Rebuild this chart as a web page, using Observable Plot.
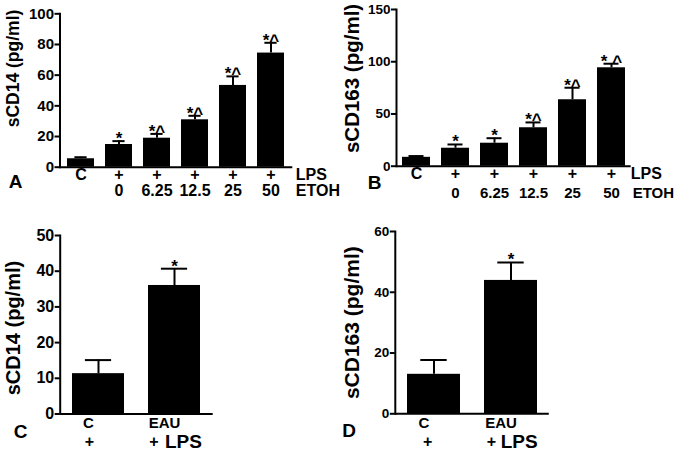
<!DOCTYPE html>
<html>
<head>
<meta charset="utf-8">
<script src="https://cdn.jsdelivr.net/npm/d3@7"></script>
<script src="https://cdn.jsdelivr.net/npm/@observablehq/plot@0.6"></script>
<style>
  html, body { margin: 0; padding: 0; background: #fff; }
  #wrap { position: relative; width: 675px; height: 451px; overflow: hidden; background: #fff; }
  .pan { position: absolute; }
</style>
</head>
<body>
<div id="wrap">
  <div class="pan" id="pA" style="left:0px;top:0px"></div>
  <div class="pan" id="pB" style="left:340px;top:0px"></div>
  <div class="pan" id="pC" style="left:0px;top:220px"></div>
  <div class="pan" id="pD" style="left:340px;top:220px"></div>
</div>
<script>
// ---- data ----
const groupsAB = ["C", "0", "6.25", "12.5", "25", "50"];
const lpsRowAB = ["C", "+", "+", "+", "+", "+"];
const etohRowAB = ["", "0", "6.25", "12.5", "25", "50"];

const sCD14_A = [5.5, 14.8, 18.9, 30.9, 53.3, 74.4];
const sCD14_A_sem = [1.0, 2.2, 2.8, 2.6, 5.9, 6.7];
const starsA = ["", "*", "*^", "*^", "*^", "*^"];
const ticksA = [0, 20, 40, 60, 80, 100];

const sCD163_B = [8.5, 17.2, 22.0, 36.8, 63.6, 94.2];
const sCD163_B_sem = [1.2, 3.6, 4.8, 5.1, 11.5, 3.9];
const starsB = ["", "*", "*", "*^", "*^", "* ^"];
const ticksB = [0, 50, 100, 150];

const groupsCD = ["C", "EAU"];
const sCD14_C = [11.3, 36.0];
const sCD14_C_sem = [3.8, 4.7];
const sCD163_D = [13.0, 43.9];
const sCD163_D_sem = [4.7, 5.9];
const starsCD = ["", "*"];
const ticksC = [0, 10, 20, 30, 40, 50];
const ticksD = [0, 20, 40, 60];

const FONT = "'Liberation Sans', Arial, Helvetica, sans-serif";

function rows(groups, means, sems, stars, r1, r2) {
  return groups.map((g, i) => ({
    g, v: means[i], e: means[i] + sems[i], star: stars[i],
    r1: r1 ? r1[i] : "", r2: r2 ? r2[i] : ""
  }));
}

function basePlot(o, marks) {
  return Plot.plot({
    width: o.width, height: o.height,
    marginLeft: o.ml, marginRight: o.mr, marginTop: o.mt, marginBottom: o.mb,
    style: {background: "white", fontFamily: FONT, fontWeight: "bold", color: "black", overflow: "visible"},
    x: {type: "band", domain: o.groups, paddingInner: o.pi, paddingOuter: o.pi / 2, axis: null},
    y: {domain: o.ydomain, axis: null},
    marks: [
      Plot.barY(o.data, {x: "g", y: "v", fill: "black"}),
      Plot.ruleX(o.data, {x: "g", y1: "v", y2: "e", stroke: "black", strokeWidth: 2}),
      Plot.tickY(o.data, {x: "g", y: "e", stroke: "black", strokeWidth: 2, insetLeft: o.capInset, insetRight: o.capInset}),
      Plot.text(o.data, {x: "g", y: "e", text: "star", lineAnchor: "bottom", dy: 3, fontSize: 17, fontWeight: "bold", fill: "black"}),
      Plot.axisY({ticks: o.ticks, tickSize: 5, tickPadding: 1, strokeWidth: 2, fontSize: o.tickFont, fontWeight: "bold", label: null, stroke: "black", fill: "black"}),
      Plot.frame({anchor: "left", stroke: "black", strokeWidth: 2}),
      Plot.ruleY([0], {stroke: "black", strokeWidth: 2}),
      Plot.text([o.ylabel], {frameAnchor: "left", textAnchor: "middle", rotate: -90, dx: o.ylx, dy: o.yly, fontSize: o.ylabelFont, fontWeight: "bold", lineAnchor: "middle", fill: "black"}),
      Plot.text([o.letter], {frameAnchor: "bottom-left", textAnchor: "middle", dx: o.lx, dy: o.ly, fontSize: 19, fontWeight: "bold", lineAnchor: "middle", fill: "black"}),
      ...marks
    ]
  });
}

// ---- Panel A ----
const dataA = rows(groupsAB, sCD14_A, sCD14_A_sem, starsA, lpsRowAB, etohRowAB);
document.getElementById("pA").appendChild(basePlot({
  width: 340, height: 205, ml: 59.5, mr: 47.7, mt: 13.3, mb: 38.3,
  groups: groupsAB, pi: 0.29, ydomain: [0, 100], ticks: ticksA, data: dataA,
  capInset: 7.4, tickFont: 15, ylabel: "sCD14 (pg/ml)", ylabelFont: 17.5, ylx: -47, yly: -22,
  letter: "A", lx: -44.5, ly: 15
}, [
  Plot.text(dataA, {x: "g", text: "r1", frameAnchor: "bottom", dy: 7.3, lineAnchor: "middle", fontSize: 16, fontWeight: "bold", fill: "black"}),
  Plot.text(dataA, {x: "g", text: "r2", frameAnchor: "bottom", dy: 24, lineAnchor: "middle", fontSize: 16, fontWeight: "bold", fill: "black"}),
  Plot.text(["LPS"], {frameAnchor: "bottom-right", textAnchor: "start", dx: 3, dy: 7.3, lineAnchor: "middle", fontSize: 16, fontWeight: "bold", fill: "black"}),
  Plot.text(["ETOH"], {frameAnchor: "bottom-right", textAnchor: "start", dx: 3, dy: 24, lineAnchor: "middle", fontSize: 16, fontWeight: "bold", fill: "black"})
]));

// ---- Panel B ----
const dataB = rows(groupsAB, sCD163_B, sCD163_B_sem, starsB, lpsRowAB, etohRowAB);
document.getElementById("pB").appendChild(basePlot({
  width: 335, height: 205, ml: 56, mr: 44.3, mt: 9, mb: 39.3,
  groups: groupsAB, pi: 0.284, ydomain: [0, 150], ticks: ticksB, data: dataB,
  capInset: 6.5, tickFont: 13.5, ylabel: "sCD163 (pg/ml)", ylabelFont: 20.5, ylx: -44.3, yly: -9.4,
  letter: "B", lx: -22, ly: 17
}, [
  Plot.text(dataB, {x: "g", text: "r1", frameAnchor: "bottom", dy: 7.3, lineAnchor: "middle", fontSize: 16, fontWeight: "bold", fill: "black"}),
  Plot.text(dataB, {x: "g", text: "r2", frameAnchor: "bottom", dy: 27.3, lineAnchor: "middle", fontSize: 15, fontWeight: "bold", fill: "black"}),
  Plot.text(["LPS"], {frameAnchor: "bottom-right", textAnchor: "start", dx: -0.5, dy: 7.3, lineAnchor: "middle", fontSize: 16, fontWeight: "bold", fill: "black"}),
  Plot.text(["ETOH"], {frameAnchor: "bottom-right", textAnchor: "start", dx: 1.5, dy: 27.3, lineAnchor: "middle", fontSize: 15, fontWeight: "bold", fill: "black"})
]));

// ---- Panels C & D ----
function cdMarks(data, o) {
  return [
    Plot.text(data, {x: "g", text: "g", frameAnchor: "bottom", dx: -10, dy: o.r1dy, lineAnchor: "middle", fontSize: 15, fontWeight: "bold", fill: "black"}),
    Plot.ruleY([0], {x1: groupsCD[0], x2: groupsCD[1], dy: o.linedy, stroke: "black", strokeWidth: 2, insetLeft: o.lineInL, insetRight: o.lineInR}),
    Plot.text(data.slice(0, 1), {x: "g", text: () => "+", frameAnchor: "bottom", dx: o.p1dx, dy: o.r3dy, lineAnchor: "middle", fontSize: 16, fontWeight: "bold", fill: "black"}),
    Plot.text(data.slice(1, 2), {x: "g", text: () => "+", frameAnchor: "bottom", dx: o.p2dx, dy: o.r3dy, lineAnchor: "middle", fontSize: 16, fontWeight: "bold", fill: "black"}),
    Plot.text(data.slice(1, 2), {x: "g", text: () => "LPS", frameAnchor: "bottom", textAnchor: "start", dx: o.ldx, dy: o.r3dy, lineAnchor: "middle", fontSize: 19, fontWeight: "bold", fill: "black"})
  ];
}

const dataC = rows(groupsCD, sCD14_C, sCD14_C_sem, starsCD);
document.getElementById("pC").appendChild(basePlot({
  width: 340, height: 231, ml: 59.7, mr: 127.3, mt: 15, mb: 37.5,
  groups: groupsCD, pi: 0.314, ydomain: [0, 50], ticks: ticksC, data: dataC,
  capInset: 12.9, tickFont: 16, ylabel: "sCD14 (pg/ml)", ylabelFont: 20, ylx: -46.2, yly: 3.3,
  letter: "C", lx: -39.7, ly: 18
}, cdMarks(dataC, {r1dy: 9.5, linedy: 17.2, lineInL: -1, lineInR: 7.7, p1dx: -9, p2dx: -20.5, ldx: -9.5, r3dy: 28.2})));

const dataD = rows(groupsCD, sCD163_D, sCD163_D_sem, starsCD);
document.getElementById("pD").appendChild(basePlot({
  width: 335, height: 231, ml: 54.8, mr: 126.2, mt: 11, mb: 37.7,
  groups: groupsCD, pi: 0.31, ydomain: [0, 60], ticks: ticksD, data: dataD,
  capInset: 13.3, tickFont: 13.5, ylabel: "sCD163 (pg/ml)", ylabelFont: 21, ylx: -43.1, yly: 0,
  letter: "D", lx: -46.3, ly: 17.4
}, cdMarks(dataD, {r1dy: 9.4, linedy: 16, lineInL: 0, lineInR: -1.6, p1dx: -6.3, p2dx: -19.6, ldx: -10.3, r3dy: 28.4})));
</script>
</body>
</html>
